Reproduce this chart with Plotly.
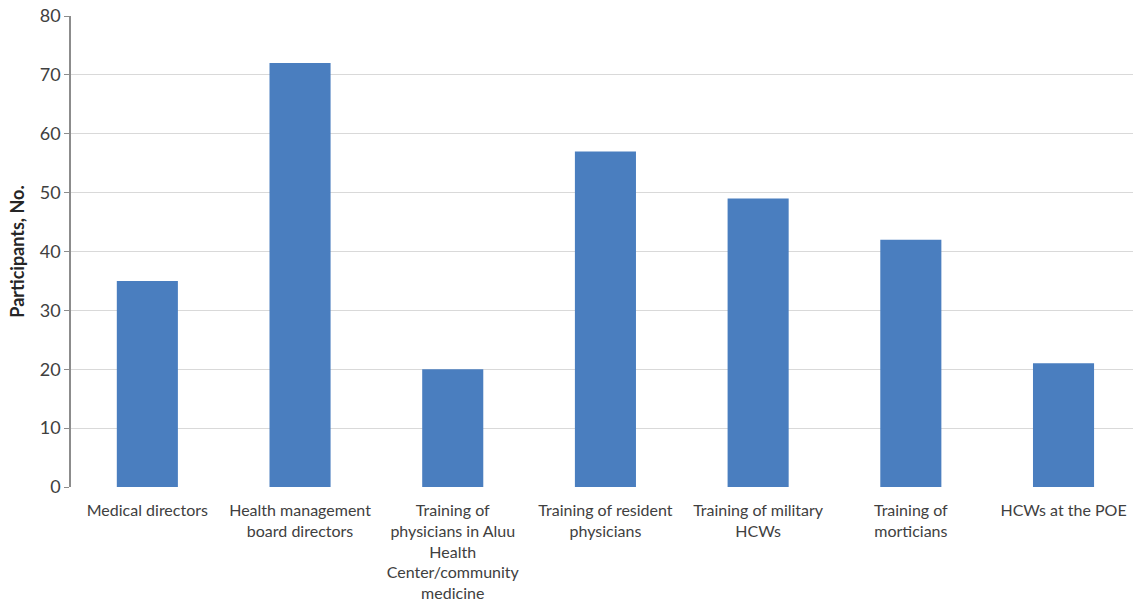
import plotly.graph_objects as go

categories = [
    "Medical directors",
    "Health management<br>board directors",
    "Training of<br>physicians in Aluu<br>Health<br>Center/community<br>medicine",
    "Training of resident<br>physicians",
    "Training of military<br>HCWs",
    "Training of<br>morticians",
    "HCWs at the POE",
]
participants = [35, 72, 20, 57, 49, 42, 21]
y_ticks = [0, 10, 20, 30, 40, 50, 60, 70, 80]

fig = go.Figure(go.Bar(
    x=list(range(len(categories))),
    y=participants,
    marker=dict(color="#4A7EBF", line=dict(width=0)),
    width=0.4,
))

fig.update_layout(
    width=1133, height=606,
    margin=dict(l=71, r=0, t=16, b=119),
    paper_bgcolor="white", plot_bgcolor="white",
    font=dict(family="Lato", color="#404040"),
    showlegend=False,
    xaxis=dict(
        tickmode="array",
        tickvals=list(range(len(categories))),
        ticktext=categories,
        range=[-0.5, 6.455],
        showgrid=False, zeroline=False, showline=False,
        ticks="", tickfont=dict(size=16, color="#404040"),
        tickangle=0,
        ticklabelstandoff=12,
    ),
    yaxis=dict(
        range=[0, 80],
        tickvals=y_ticks,
        showgrid=True, gridcolor="#D9D9D9", gridwidth=1.2,
        zeroline=False,
        showline=True, linecolor="#8C8C8C", linewidth=1.5,
        ticks="outside", ticklen=5, tickcolor="#8C8C8C",
        tickfont=dict(size=18, color="#404040"),
        title=dict(text="<b>Participants, No.</b>", font=dict(size=18, color="#262626"), standoff=10),
    ),
)

fig.write_html("out.html")
